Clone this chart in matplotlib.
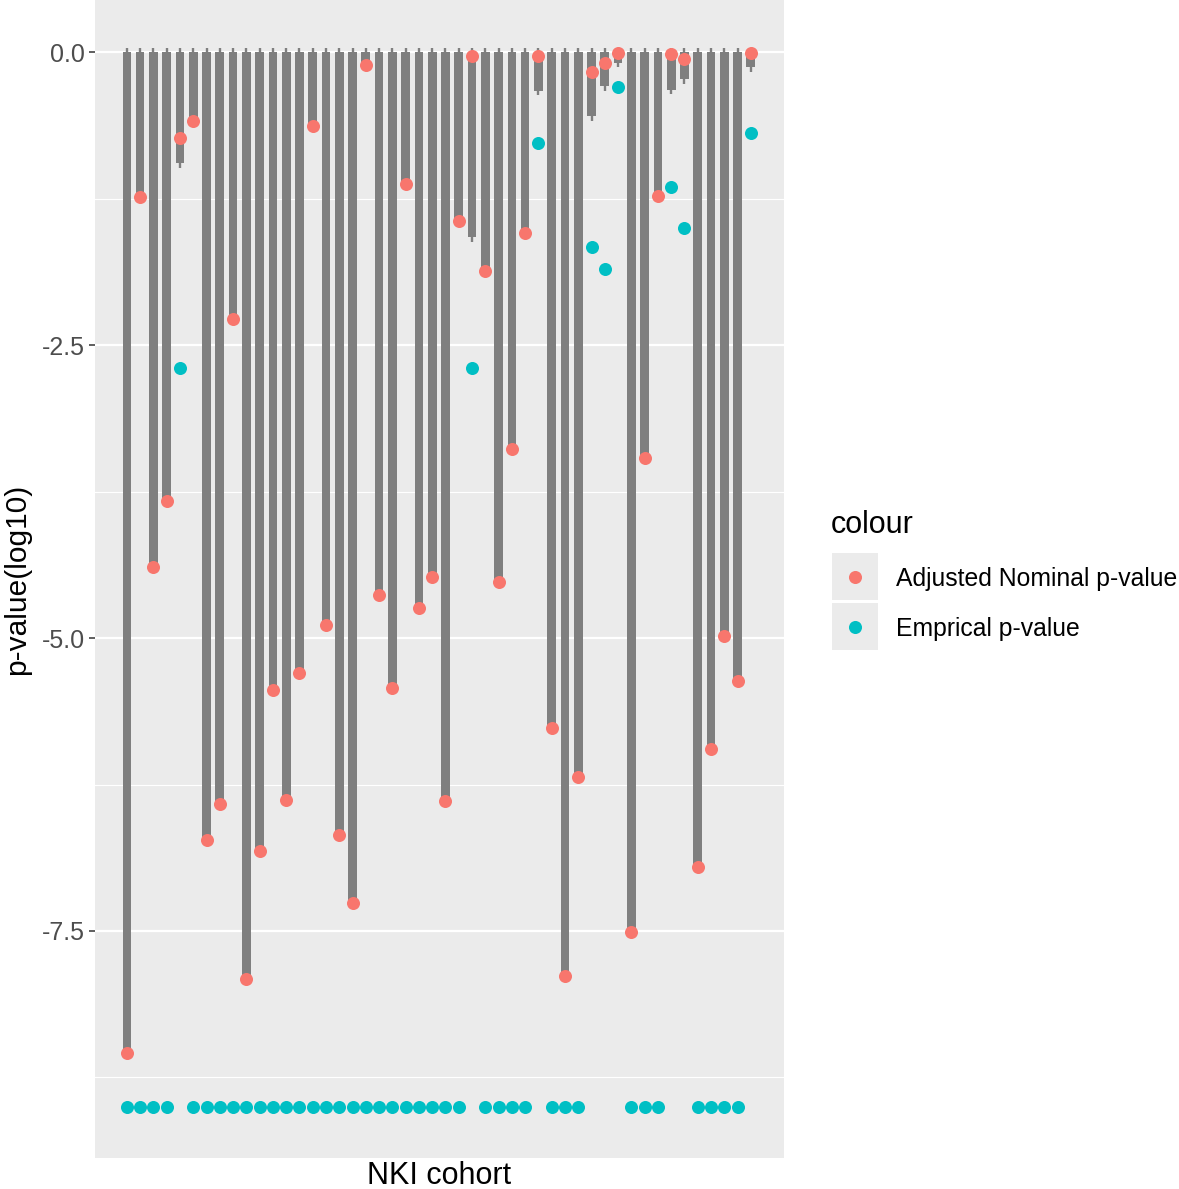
import numpy as np
import matplotlib.pyplot as plt
from matplotlib.patches import Rectangle
from matplotlib.lines import Line2D

plt.rcParams['font.family'] = ['Liberation Sans', 'DejaVu Sans']
plt.rcParams['axes.unicode_minus'] = False

# valores (log10 p-value)
adj_nominal = [-8.54, -1.24, -4.39, -3.83, -0.73, -0.59, -6.72, -6.42, -2.28, -7.91,
               -6.82, -5.44, -6.38, -5.30, -0.63, -4.89, -6.68, -7.26, -0.11, -4.63,
               -5.43, -1.13, -4.74, -4.48, -6.39, -1.44, -0.03, -1.87, -4.52, -3.39,
               -1.54, -0.03, -5.77, -7.88, -6.19, -0.17, -0.09, -0.01, -7.51, -3.46,
               -1.23, -0.02, -0.06, -6.95, -5.95, -4.98, -5.37, -0.01]
empirical = [-9.0, -9.0, -9.0, -9.0, -2.70, -9.0, -9.0, -9.0, -9.0, -9.0,
             -9.0, -9.0, -9.0, -9.0, -9.0, -9.0, -9.0, -9.0, -9.0, -9.0,
             -9.0, -9.0, -9.0, -9.0, -9.0, -9.0, -2.70, -9.0, -9.0, -9.0,
             -9.0, -0.78, -9.0, -9.0, -9.0, -1.66, -1.85, -0.30, -9.0, -9.0,
             -9.0, -1.15, -1.50, -9.0, -9.0, -9.0, -9.0, -0.69]
box_low = [-8.54, -1.24, -4.39, -3.83, -0.95, -0.59, -6.72, -6.42, -2.28, -7.91,
           -6.82, -5.44, -6.38, -5.30, -0.63, -4.89, -6.68, -7.26, -0.11, -4.63,
           -5.43, -1.13, -4.74, -4.48, -6.39, -1.44, -1.58, -1.87, -4.52, -3.39,
           -1.54, -0.33, -5.77, -7.88, -6.19, -0.55, -0.29, -0.09, -7.51, -3.46,
           -1.23, -0.32, -0.23, -6.95, -5.95, -4.98, -5.37, -0.13]
whisker_ext = 0.04
y_ticks = [0.0, -2.5, -5.0, -7.5]
y_minor = [-1.25, -3.75, -6.25, -8.75]

red = '#F8766D'
teal = '#00BFC4'
bar_col = '#7F7F7F'

x = np.arange(len(adj_nominal))
box_low = np.array(box_low)

fig = plt.figure(figsize=(11.79, 11.89), dpi=100)
ax = fig.add_axes([95 / 1179, 1 - 1158 / 1189, 689 / 1179, 1158 / 1189])
ax.set_facecolor('#EBEBEB')

for v in y_ticks:
    ax.axhline(v, color='white', lw=1.6, zorder=0)
for v in y_minor:
    ax.axhline(v, color='white', lw=0.8, zorder=0)

# cajas y bigotes
ax.vlines(x, box_low - whisker_ext, whisker_ext * 0.9, color=bar_col, lw=1.7, zorder=1)
ax.bar(x, box_low, width=0.655, color=bar_col, zorder=2)

ax.scatter(x, adj_nominal, s=88, color=red, zorder=3, linewidths=0)
ax.scatter(x, empirical, s=88, color=teal, zorder=3, linewidths=0)

ax.set_xlim(-2.4, 49.5)
ax.set_ylim(-9.437, 0.444)
ax.set_xticks([])
ax.set_yticks(y_ticks)
ax.set_yticklabels(['%.1f' % v for v in y_ticks])
ax.tick_params(axis='y', length=4.5, width=1.1, color='#333333', labelsize=18,
               labelcolor='#4D4D4D', pad=3)
for s in ax.spines.values():
    s.set_visible(False)

fig.text(17 / 1179, 1 - 579 / 1189, 'p-value(log10)', rotation=90, ha='center',
         va='center', fontsize=21.5)
fig.text(439.5 / 1179, 0.004, 'NKI cohort', ha='center', va='baseline', fontsize=22)

# leyenda manual
fig.text(831 / 1179, 1 - 533 / 1189, 'colour', ha='left', va='baseline', fontsize=22)
labels = ['Adjusted Nominal p-value', 'Emprical p-value']
colors = [red, teal]
for i in range(2):
    top = 553 + i * 50
    fig.patches.append(Rectangle((832 / 1179, 1 - (top + 47) / 1189), 46 / 1179, 47 / 1189,
                                 transform=fig.transFigure, facecolor='#EBEBEB',
                                 edgecolor='none'))
    fig.add_artist(Line2D([855 / 1179], [1 - (top + 24) / 1189], marker='o', markersize=9.4,
                          color=colors[i], markeredgewidth=0, transform=fig.transFigure))
    fig.text(896 / 1179, 1 - (top + 33) / 1189, labels[i], ha='left', va='baseline',
             fontsize=17.8)

plt.savefig('out.png', dpi=100)
